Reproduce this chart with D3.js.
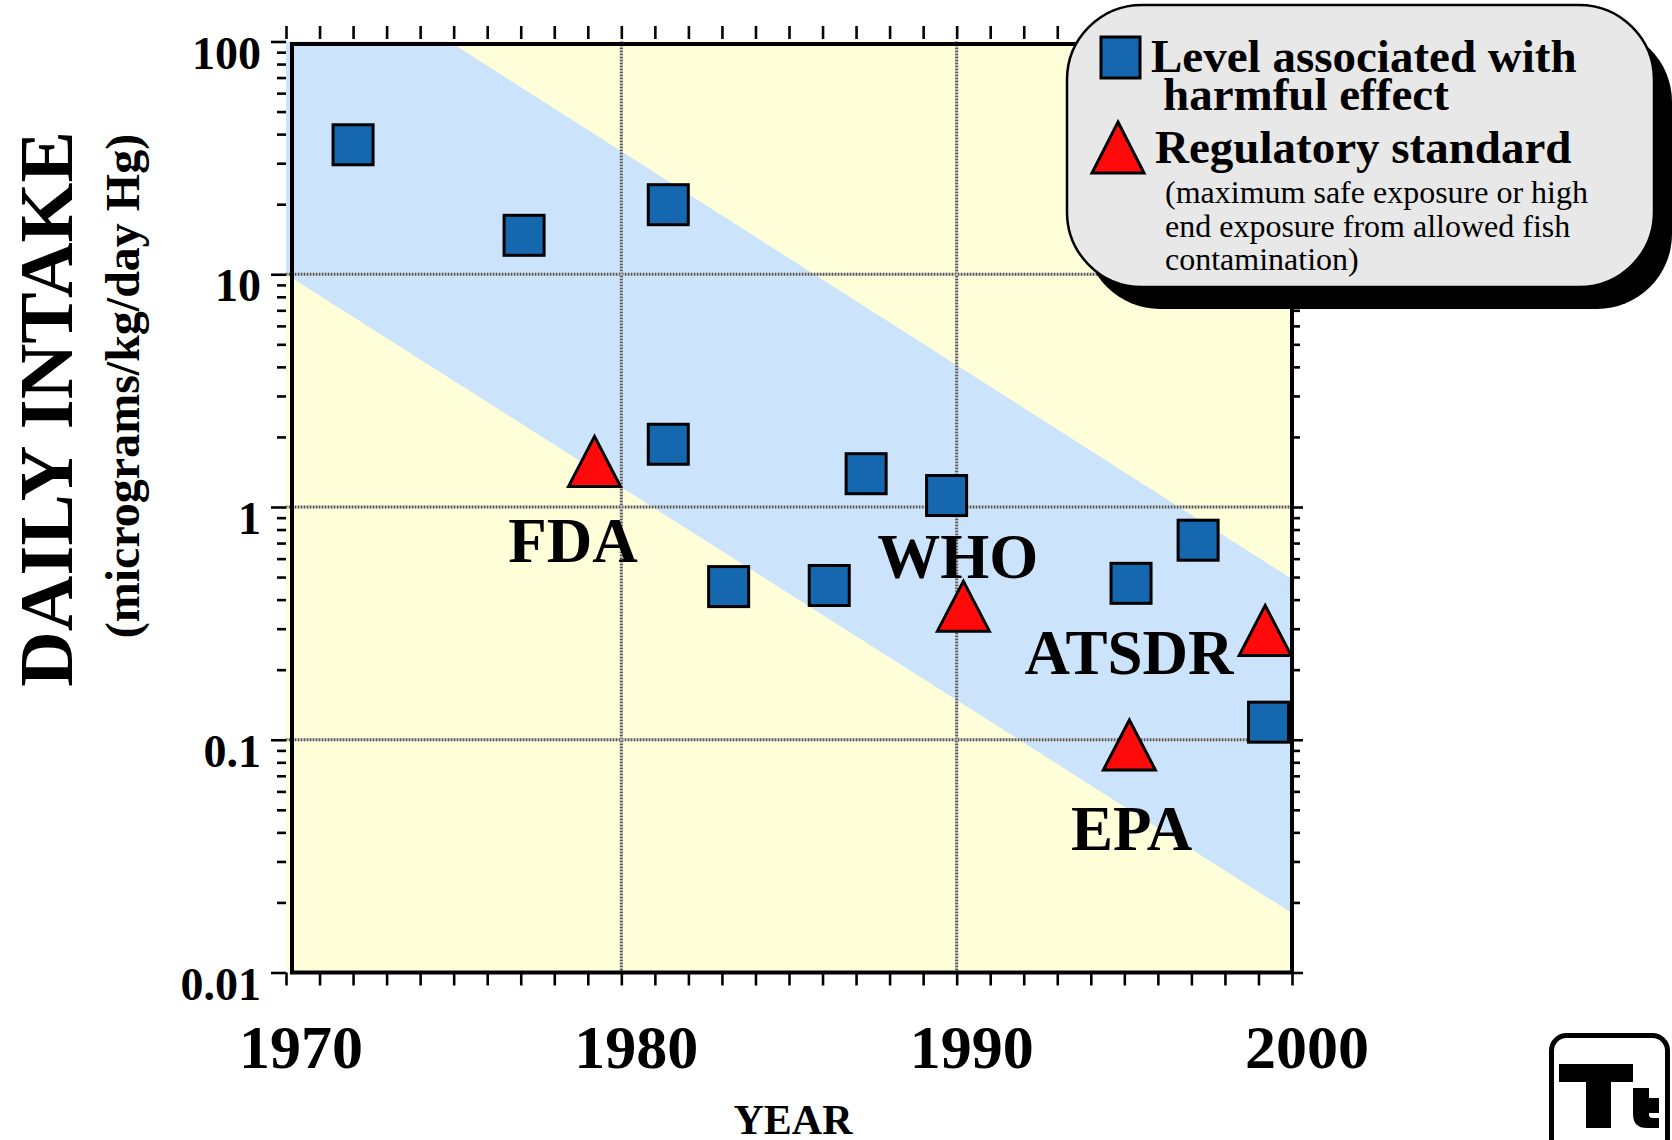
<!DOCTYPE html>
<html>
<head>
<meta charset="utf-8">
<title>Daily intake of mercury</title>
<style>
  body { margin: 0; padding: 0; overflow: hidden; background: #fff; }
  svg { display: block; }
  text { font-family: "Liberation Serif", "Times New Roman", serif; }
</style>
<script src="https://cdn.jsdelivr.net/npm/d3@7/dist/d3.min.js"></script>
</head>
<body>
<svg width="1672" height="1140"></svg>
<script>
// levels associated with a harmful effect (squares)
const harmfulYears  = [1972.0, 1977.1, 1981.4, 1981.4, 1983.2, 1986.2, 1987.3, 1989.7, 1995.2, 1997.2, 1999.3];
const harmfulValues = [36, 14.7, 19.9, 1.86, 0.455, 0.46, 1.39, 1.12, 0.47, 0.72, 0.119];

// regulatory standards (triangles)
const standardNames  = ['FDA', 'WHO', 'EPA', 'ATSDR'];
const standardYears  = [1979.2, 1990.2, 1995.15, 1999.2];
const standardValues = [1.57, 0.375, 0.095, 0.295];

// where the agency names sit (baseline)
const labelYears  = [1978.56, 1990.03, 1995.22, 1995.14];
const labelValues = [0.58, 0.494, 0.0336, 0.191];

// blue band, lower and upper edge
const bandYears = [1970, 2000];
const bandLower = [10, 0.018];
const bandUpper = [280, 0.49];

// axes
const yearTicks  = d3.range(1970, 2001);
const yearLabels = [1970, 1980, 1990, 2000];
const valueLabels = [100, 10, 1, 0.1, 0.01];
const gridYears  = [1980, 1990];
const gridValues = [10, 1, 0.1];

const legendNote = ['(maximum safe exposure or high', 'end exposure from allowed fish', 'contamination)'];

const svg = d3.select('svg');

const x = d3.scaleLinear().domain([1970, 2000]).range([286, 1292]);
const y = d3.scaleLog().domain([0.01, 100]).range([972.5, 41.5]);

const minorValues = [];
[0.01, 0.1, 1, 10].forEach(d => {
  for (let k = 1; k <= 9; k++) minorValues.push(d * k);
});
minorValues.push(100);

// plot background
svg.append('clipPath').attr('id', 'plot')
  .append('rect')
  .attr('x', x(1970)).attr('y', y(100))
  .attr('width', x(2000) - x(1970)).attr('height', y(0.01) - y(100));

svg.append('rect')
  .attr('x', x(1970)).attr('y', y(100))
  .attr('width', x(2000) - x(1970)).attr('height', y(0.01) - y(100))
  .attr('fill', '#fefed9');

// band
const bandPts = bandYears.map((yr, i) => [x(yr), y(bandUpper[i])])
  .concat(bandYears.map((yr, i) => [x(yr), y(bandLower[i])]).reverse());
svg.append('path')
  .attr('clip-path', 'url(#plot)')
  .attr('d', d3.line()(bandPts) + 'Z')
  .attr('fill', '#cbe4fb');

// grid lines (grey checkered look)
const grid = svg.append('g');
[['#555', '1.5,1.5', 0], ['#bbb', '1.5,1.5', 1.5]].forEach(([col, dash, off]) => {
  const g = grid.append('g')
    .attr('stroke', col)
    .attr('stroke-width', 3)
    .attr('stroke-dasharray', dash)
    .attr('stroke-dashoffset', off);
  g.selectAll('line.v').data(gridYears).enter().append('line')
    .attr('x1', d => x(d)).attr('x2', d => x(d))
    .attr('y1', y(100)).attr('y2', y(0.01));
  g.selectAll('line.h').data(gridValues).enter().append('line')
    .attr('x1', x(1970)).attr('x2', x(2000))
    .attr('y1', d => y(d)).attr('y2', d => y(d));
});

// frame
svg.append('rect')
  .attr('x', 292).attr('y', 44)
  .attr('width', x(2000) - 292).attr('height', y(0.01) - 44)
  .attr('fill', 'none')
  .attr('stroke', '#000')
  .attr('stroke-width', 4);

// tick marks
function styleAxis(g) {
  g.select('.domain').remove();
  g.selectAll('.tick line').attr('stroke', '#000').attr('stroke-width', 2.6);
  g.selectAll('.tick text').remove();
}
svg.append('g')
  .attr('transform', `translate(0,${y(0.01)})`)
  .call(d3.axisBottom(x).tickValues(yearTicks).tickSize(13))
  .call(styleAxis);
svg.append('g')
  .attr('transform', 'translate(0,39)')
  .call(d3.axisTop(x).tickValues(yearTicks).tickSize(13))
  .call(styleAxis);

const isMajor = v => valueLabels.some(m => Math.abs(m - v) < m * 1e-6);
svg.append('g')
  .attr('transform', `translate(${x(1970)},0)`)
  .call(d3.axisLeft(y).tickValues(minorValues).tickSize(9))
  .call(styleAxis)
  .selectAll('.tick line')
  .attr('x2', d => isMajor(d) ? -15 : -9);
svg.append('g')
  .attr('transform', `translate(${x(2000)},0)`)
  .call(d3.axisRight(y).tickValues(minorValues).tickSize(8))
  .call(styleAxis)
  .selectAll('.tick line')
  .attr('x2', d => isMajor(d) ? 11 : 8);

// tick labels
svg.selectAll('text.ylab').data(valueLabels).enter().append('text')
  .attr('x', 261)
  .attr('y', d => y(d) + 27)
  .attr('text-anchor', 'end')
  .attr('font-size', 46)
  .attr('font-weight', 'bold')
  .text(d => String(d));

svg.selectAll('text.xlab').data(yearLabels).enter().append('text')
  .attr('x', d => x(d) + 15)
  .attr('y', 1068)
  .attr('text-anchor', 'middle')
  .attr('font-size', 62)
  .attr('font-weight', 'bold')
  .text(d => d);

// axis titles
svg.append('text')
  .attr('x', 793).attr('y', 1134)
  .attr('text-anchor', 'middle')
  .attr('font-size', 42)
  .attr('font-weight', 'bold')
  .text('YEAR');

svg.append('text')
  .attr('transform', 'translate(72,409) rotate(-90)')
  .attr('text-anchor', 'middle')
  .attr('font-size', 77)
  .attr('font-weight', 'bold')
  .text('DAILY INTAKE');

svg.append('text')
  .attr('transform', 'translate(139,386) rotate(-90)')
  .attr('text-anchor', 'middle')
  .attr('font-size', 48)
  .attr('font-weight', 'bold')
  .text('(micrograms/kg/day Hg)');

// markers
const SQ = 40;
function triPath(cx, cy, w, h) {
  return `M${cx},${cy - h / 2}L${cx + w / 2},${cy + h / 2}L${cx - w / 2},${cy + h / 2}Z`;
}

svg.selectAll('rect.harm').data(harmfulYears).enter().append('rect')
  .attr('x', (d, i) => x(d) - SQ / 2)
  .attr('y', (d, i) => y(harmfulValues[i]) - SQ / 2)
  .attr('width', SQ).attr('height', SQ)
  .attr('fill', '#1568b0')
  .attr('stroke', '#000')
  .attr('stroke-width', 3);

svg.selectAll('path.std').data(standardYears).enter().append('path')
  .attr('d', (d, i) => triPath(x(d), y(standardValues[i]), 52, 50))
  .attr('fill', '#ff0a0a')
  .attr('stroke', '#000')
  .attr('stroke-width', 3)
  .attr('stroke-linejoin', 'miter');

svg.selectAll('text.agency').data(standardNames).enter().append('text')
  .attr('x', (d, i) => x(labelYears[i]))
  .attr('y', (d, i) => y(labelValues[i]))
  .attr('text-anchor', 'middle')
  .attr('font-size', 63)
  .attr('font-weight', 'bold')
  .text(d => d);

// legend box with drop shadow
const legend = svg.append('g');
legend.append('rect')
  .attr('x', 1085).attr('y', 27)
  .attr('width', 587).attr('height', 282)
  .attr('rx', 75).attr('ry', 75)
  .attr('fill', '#000');
legend.append('rect')
  .attr('x', 1067).attr('y', 5)
  .attr('width', 587).attr('height', 282)
  .attr('rx', 75).attr('ry', 75)
  .attr('fill', '#e8e8e8')
  .attr('stroke', '#000')
  .attr('stroke-width', 2.5);

legend.append('rect')
  .attr('x', 1101).attr('y', 37)
  .attr('width', 39).attr('height', 41)
  .attr('fill', '#1568b0')
  .attr('stroke', '#000')
  .attr('stroke-width', 3);
legend.append('path')
  .attr('d', triPath(1118, 147.5, 52, 51))
  .attr('fill', '#ff0a0a')
  .attr('stroke', '#000')
  .attr('stroke-width', 3);

const bold = [['Level associated with', 1151, 72], ['harmful effect', 1163, 110], ['Regulatory standard', 1155, 163]];
legend.selectAll('text.lb').data(bold).enter().append('text')
  .attr('x', d => d[1]).attr('y', d => d[2])
  .attr('font-size', 47)
  .attr('font-weight', 'bold')
  .text(d => d[0]);

legend.selectAll('text.ln').data(legendNote).enter().append('text')
  .attr('x', 1165)
  .attr('y', (d, i) => 203 + i * 33.5)
  .attr('font-size', 32)
  .text(d => d);

// corner logo
const logo = svg.append('g');
logo.append('rect')
  .attr('x', 1551.5).attr('y', 1035.5)
  .attr('width', 116).attr('height', 140)
  .attr('rx', 15)
  .attr('fill', '#fff')
  .attr('stroke', '#000')
  .attr('stroke-width', 5);
logo.append('path')
  .attr('d', 'M1559,1064H1633V1082H1611V1128H1586V1082H1559Z')
  .attr('fill', '#000');
logo.append('path')
  .attr('d', 'M1633,1088H1649V1098H1659V1113H1649V1115Q1649,1118 1653,1118H1659V1128H1647Q1633,1128 1633,1114Z')
  .attr('fill', '#000');
</script>
</body>
</html>
